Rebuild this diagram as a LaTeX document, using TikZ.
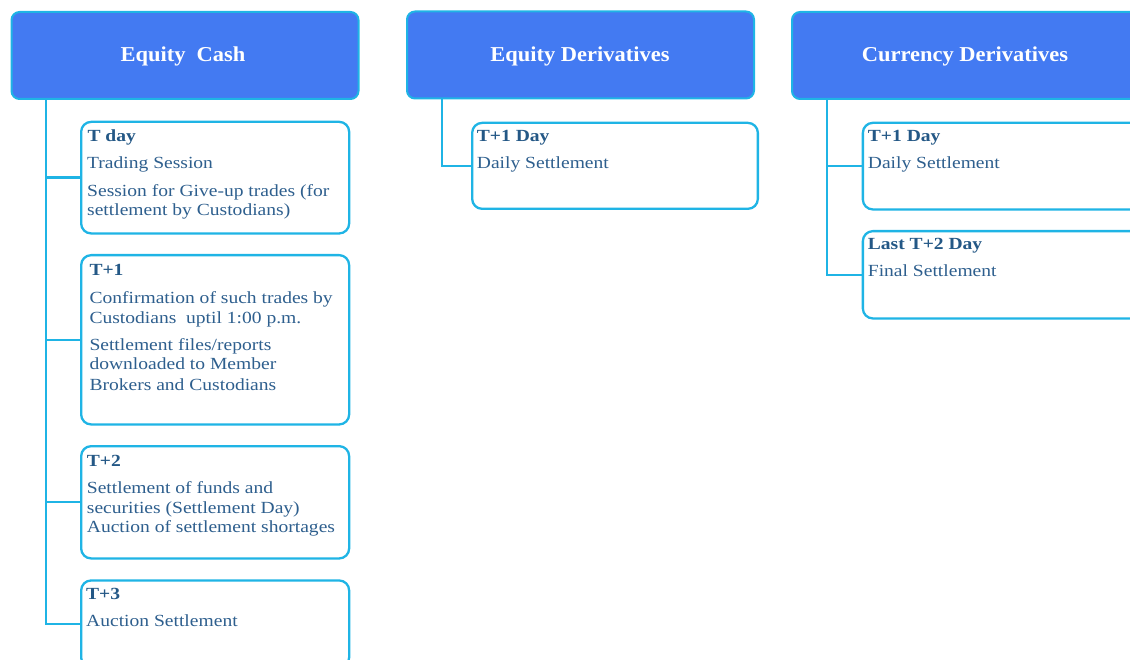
\documentclass[tikz,border=0pt]{standalone}
\usepackage{fontspec}
\setmainfont{Liberation Serif}
\newfontfamily\bodyfont{Liberation Serif}[FakeStretch=1.15]
\newfontfamily\hdrfont{Liberation Serif}[FakeStretch=1.06]
\definecolor{hdrfill}{HTML}{437AF2}
\definecolor{edge}{HTML}{1FB4E5}
\definecolor{txtc}{HTML}{2E5F8E}
\definecolor{ttlc}{HTML}{245886}
\tikzset{
  hdr/.style={draw=edge, line width=2pt, fill=hdrfill, rounded corners=8pt, minimum width=347pt, minimum height=87pt, inner sep=0pt},
  hdrtxt/.style={text=white, font=\hdrfont\fontsize{21.2}{25}\selectfont\bfseries, anchor=base, inner sep=0pt},
  daybox/.style={draw=edge, line width=2.3pt, fill=white, rounded corners=10pt, anchor=north west, inner sep=0pt},
  conn/.style={draw=edge, line width=2.3pt},
  ttl/.style={anchor=base west, inner sep=0pt, text=ttlc, font=\bodyfont\fontsize{17}{20}\selectfont\bfseries},
  body/.style={anchor=base west, inner sep=0pt, text=txtc, font=\bodyfont\fontsize{17}{20}\selectfont},
}
\begin{document}
\begin{tikzpicture}[x=1pt, y=-1pt]
\useasboundingbox (0,0) rectangle (1130,660);
\clip (0,0) rectangle (1130,660);
% headers
\node[hdr] (hEC) at (185,55.5) {};
\node[hdrtxt] (hECt) at (183,61.7) {Equity\ \ Cash};
\node[hdr] (hED) at (580.5,55) {};
\node[hdrtxt] (hEDt) at (580,61.7) {Equity Derivatives};
\node[hdr] (hCD) at (965.5,55.5) {};
\node[hdrtxt] (hCDt) at (965,61.7) {Currency Derivatives};
% spine points
\coordinate (sEC) at (45.7,99);
\coordinate (sED) at (441.7,98.3);
\coordinate (sCD) at (827.3,99.3);
% Equity cash boxes
\node[daybox, minimum width=268pt, minimum height=111.6pt] (b0) at (80,120.7) {};
\node[daybox, minimum width=268pt, minimum height=169.3pt] (b1) at (80,254) {};
\node[daybox, minimum width=268pt, minimum height=112.3pt] (b2) at (80,445) {};
\node[daybox, minimum width=268pt, minimum height=87pt] (b3) at (80,579.3) {};
% Equity derivatives box
\node[daybox, minimum width=285.7pt, minimum height=86pt] (d1) at (471,121.7) {};
% Currency derivatives boxes
\node[daybox, minimum width=285pt, minimum height=86.6pt] (c1) at (861.7,121.7) {};
\node[daybox, minimum width=285pt, minimum height=87.3pt] (c2) at (861.7,230) {};
% connectors
\draw[conn] (sEC) |- (b0.west);
\draw[conn] (sEC) |- (b1.west);
\draw[conn] (sEC) |- (b2.west);
\draw[conn] (sEC) |- (b3.west);
\draw[conn] (sED) |- (d1.west);
\draw[conn] (sCD) |- (c1.west);
\draw[conn] (sCD) |- (c2.west);
% texts: T day
\node[ttl] (b0t) at (87.3,141.7) {T day};
\node[body] (b0a) at (87,168.3) {Trading Session};
\node[body] (b0b) at (87,196.7) {Session for Give-up trades (for};
\node[body] (b0c) at (87,215.5) {settlement by Custodians)};
% T+1
\node[ttl] (b1t) at (89.3,275.7) {T+1};
\node[body] (b1a) at (89.3,303.3) {Confirmation of such trades by};
\node[body] (b1b) at (89.3,323.3) {Custodians\ \ uptil 1:00 p.m.};
\node[body] (b1c) at (89.3,350) {Settlement files/reports};
\node[body] (b1d) at (89.3,370) {downloaded to Member};
\node[body] (b1e) at (89.3,390) {Brokers and Custodians};
% T+2
\node[ttl] (b2t) at (86.7,466) {T+2};
\node[body] (b2a) at (86.7,493.3) {Settlement of funds and};
\node[body] (b2b) at (86.7,513.3) {securities (Settlement Day)};
\node[body] (b2c) at (86.7,532.7) {Auction of settlement shortages};
% T+3
\node[ttl] (b3t) at (86,599) {T+3};
\node[body] (b3a) at (86,626) {Auction Settlement};
% ED
\node[ttl] (d1t) at (476.7,141.7) {T+1 Day};
\node[body] (d1a) at (476.7,168.3) {Daily Settlement};
% CD
\node[ttl] (c1t) at (867.7,141.7) {T+1 Day};
\node[body] (c1a) at (867.7,168.3) {Daily Settlement};
\node[ttl] (c2t) at (867.7,250) {Last T+2 Day};
\node[body] (c2a) at (867.7,276.7) {Final Settlement};
\end{tikzpicture}
\end{document}
